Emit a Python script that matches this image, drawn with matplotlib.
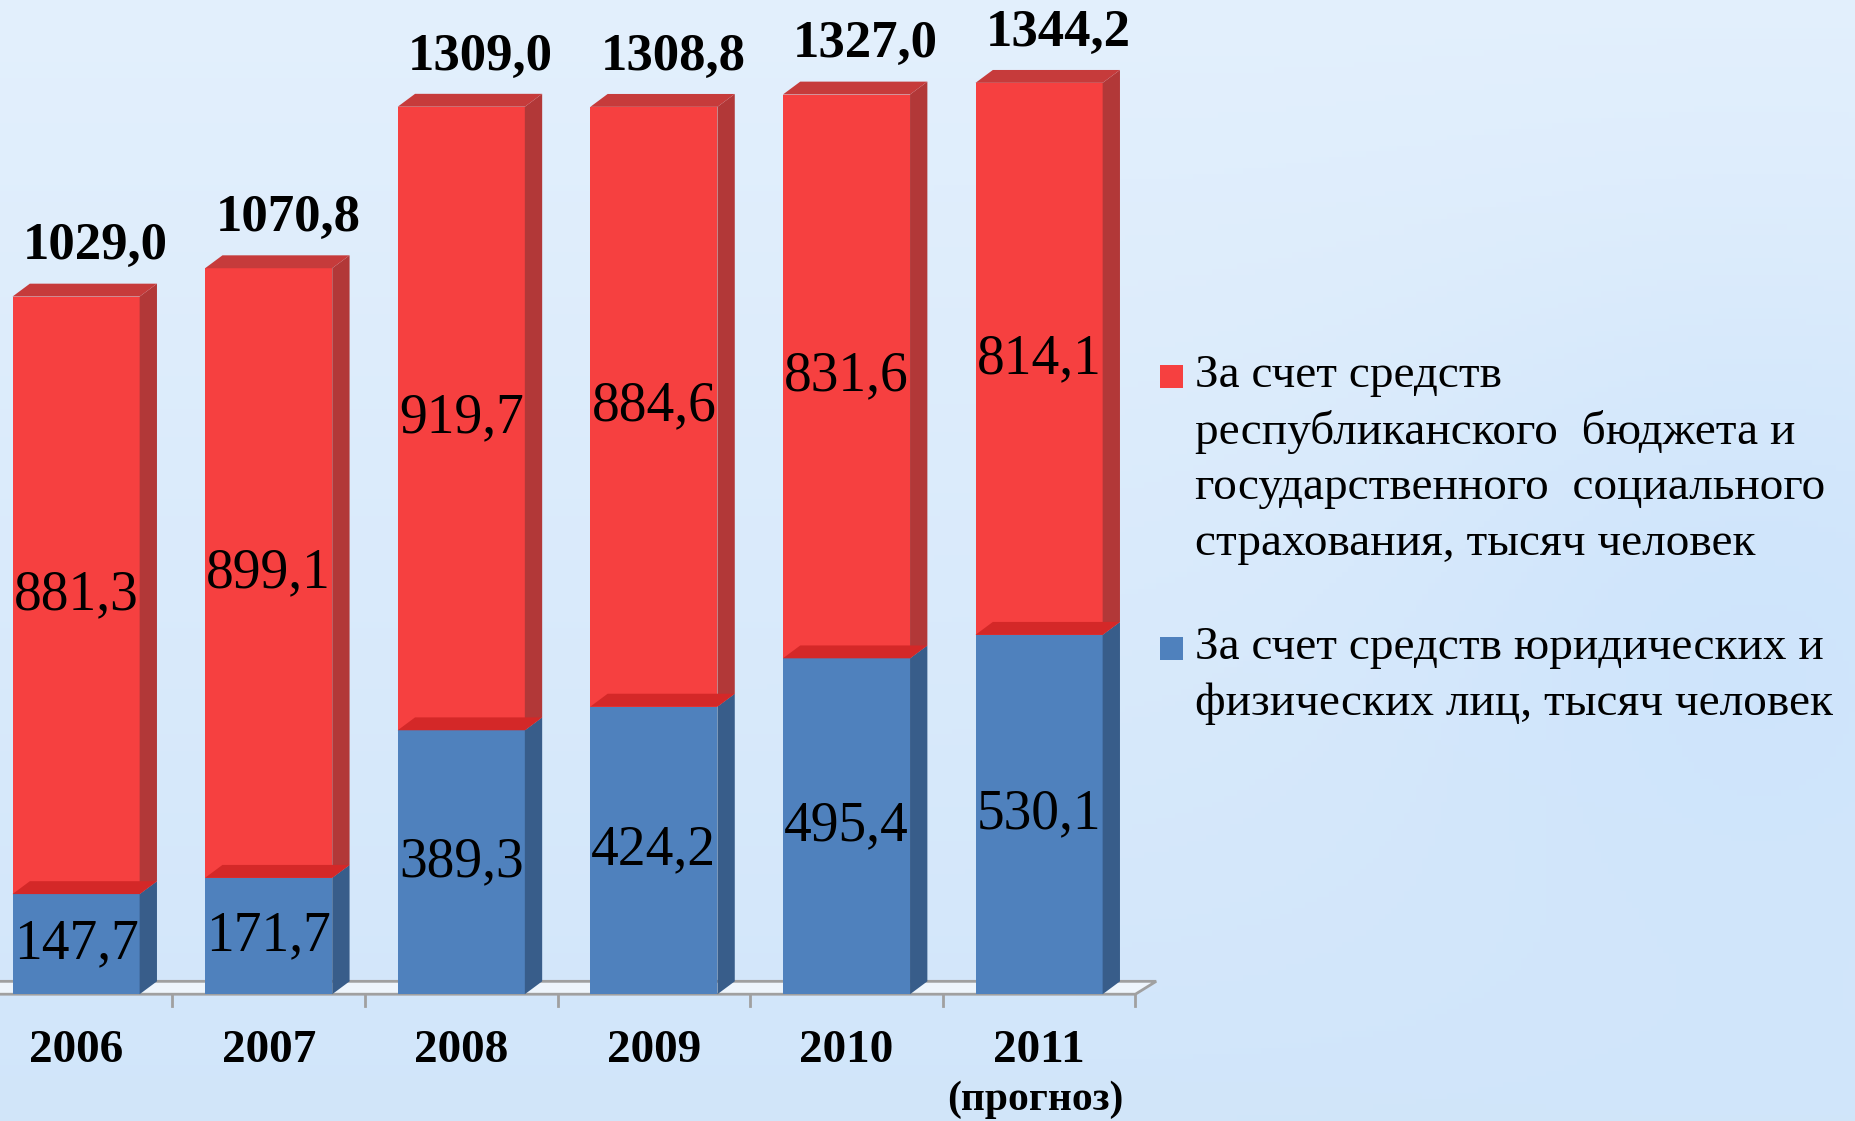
import numpy as np
import matplotlib
matplotlib.use("Agg")
import matplotlib.pyplot as plt
from matplotlib.patches import Polygon, Rectangle

# data (тысяч человек)
years = ["2006", "2007", "2008", "2009", "2010", "2011"]
budget = [881.3, 899.1, 919.7, 884.6, 831.6, 814.1]
private = [147.7, 171.7, 389.3, 424.2, 495.4, 530.1]
totals = [1029.0, 1070.8, 1309.0, 1308.8, 1327.0, 1344.2]
forecast_note = "(прогноз)"
legend_labels = [
    "За счет средств\nреспубликанского  бюджета и\nгосударственного  социального\nстрахования, тысяч человек",
    "За счет средств юридических и\nфизических лиц, тысяч человек",
]

RED = "#F64040"
RED_TOP = "#C63B3B"
RED_SIDE = "#B23838"
RED_EDGE = "#D42828"
BLUE = "#4F81BD"
BLUE_SIDE = "#385D8A"
SERIF = "Liberation Serif"

W, H = 1855, 1121
fig = plt.figure(figsize=(W / 100, H / 100), dpi=100)
ax = fig.add_axes([0, 0, 1, 1])
xlim = (-0.395, -0.395 + W / 192.6)
ylim = (-187, -187 + H / 0.678)
ax.axis("off")

# soft slide-like background
yy, xx = np.mgrid[0:1:200j, 0:1:300j]
top = np.array([0.89, 0.94, 0.99])
bot = np.array([0.82, 0.90, 0.98])
bg = top * (1 - yy[..., None]) + bot * yy[..., None]
blob = np.exp(-(((xx - 0.95) / 0.2) ** 2 + ((yy - 0.55) / 0.3) ** 2))
bg = bg * (1 - 0.35 * blob[..., None]) + np.array([0.74, 0.86, 0.99]) * 0.35 * blob[..., None]
ax.imshow(bg, extent=[xlim[0], xlim[1], ylim[0], ylim[1]],
          origin="upper", aspect="auto", zorder=0)
ax.set_xlim(*xlim)
ax.set_ylim(*ylim)

bw = 0.66
dx, dy = 0.09, 19
x = np.arange(len(years))

# floor
x_end = len(years) - 0.5
floor = Polygon([(-0.5, 0), (x_end, 0), (x_end + dx * 1.2, dy), (-0.5 + dx, dy)],
                closed=True, facecolor="#EEF5FC", edgecolor="#A0A0A0", lw=2, zorder=1)
ax.add_patch(floor)
for k in range(-1, len(years)):
    ax.plot([k + 0.5, k + 0.5], [0, -18], color="#A0A0A0", lw=2, zorder=1)

fmt = lambda v: f"{v:.1f}".replace(".", ",")

for i in range(len(years)):
    x0 = x[i] - bw / 2
    x1 = x[i] + bw / 2
    b = private[i]
    t = b + budget[i]
    # blue part
    ax.add_patch(Rectangle((x0, 0), bw, b, facecolor=BLUE, lw=0, zorder=3))
    ax.add_patch(Polygon([(x1, 0), (x1 + dx, dy), (x1 + dx, b + dy), (x1, b)],
                         facecolor=BLUE_SIDE, lw=0, zorder=3))
    # red part
    ax.add_patch(Rectangle((x0, b), bw, budget[i], facecolor=RED, lw=0, zorder=3))
    ax.add_patch(Polygon([(x1, b), (x1 + dx, b + dy), (x1 + dx, t + dy), (x1, t)],
                         facecolor=RED_SIDE, lw=0, zorder=3))
    ax.add_patch(Polygon([(x0, t), (x1, t), (x1 + dx, t + dy), (x0 + dx, t + dy)],
                         facecolor=RED_TOP, lw=0, zorder=3))
    ax.add_patch(Polygon([(x0, b), (x1, b), (x1 + dx, b + dy), (x0 + dx, b + dy)],
                         facecolor=RED_EDGE, lw=0, zorder=4))

    ax.text(x[i], b / 2, fmt(private[i]), ha="center", va="center",
            fontsize=40, family=SERIF, zorder=5)
    ax.text(x[i], b + budget[i] / 2, fmt(budget[i]), ha="center", va="center",
            fontsize=40, family=SERIF, zorder=5)
    ax.text(x[i] + 0.1, totals[i] + 74, fmt(totals[i]), ha="center", va="center",
            fontsize=38, family=SERIF, weight="bold", zorder=5)
    ax.text(x[i], -84, years[i], ha="center", va="center",
            fontsize=34, family=SERIF, weight="bold", zorder=5)

ax.text(x[-1] - 0.02, -156, forecast_note, ha="center", va="center",
        fontsize=30, family=SERIF, weight="bold", zorder=5)

# legend
leg_colors = [RED, BLUE]
leg_y = [376, 648]
for lab, col, y0 in zip(legend_labels, leg_colors, leg_y):
    fig.patches.append(Rectangle((1160 / W, 1 - (y0 + 12) / H), 23 / W, 23 / H,
                                 facecolor=col, lw=0, transform=fig.transFigure))
    for j, line in enumerate(lab.split("\n")):
        fig.text(1195 / W, 1 - (y0 + 56 * j) / H, line, ha="left", va="center",
                 fontsize=34, family=SERIF)

fig.savefig("out.png", dpi=100)
